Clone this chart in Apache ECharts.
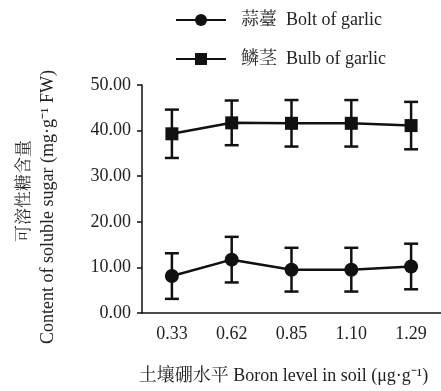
<!DOCTYPE html>
<html><head><meta charset="utf-8">
<script src="https://cdn.jsdelivr.net/npm/echarts@6/dist/echarts.min.js"></script>
<style>html,body{margin:0;padding:0;background:#fff}#c{width:441px;height:391px}</style>
</head><body><div id="c"></div>
<script>
var categories = ['0.33', '0.62', '0.85', '1.10', '1.29'];
var boltName = '蒜薹  Bolt of garlic';
var bulbName = '鳞茎  Bulb of garlic';
var bolt = [8.1, 11.7, 9.5, 9.5, 10.2];
var boltErr = [5.0, 5.0, 4.8, 4.8, 5.0];
var bulb = [39.3, 41.7, 41.6, 41.6, 41.1];
var bulbErr = [5.3, 4.9, 5.1, 5.1, 5.2];
var yTicks = [0, 10, 20, 30, 40, 50];
var yNameEn = 'Content of soluble sugar (mg·g⁻¹ FW)';
var yNameZh = '可溶性糖含量';
var xName = '土壤硼水平 Boron level in soil (μg·g⁻¹)';

var FONT = "'Liberation Serif', 'Noto Serif CJK SC', 'Noto Sans CJK SC', serif";
var INK = '#111';
var TXT = '#222';
var FS = 18;

function errItem(params, api) {
  var i = api.value(0), v = api.value(1), e = api.value(2);
  var top = api.coord([i, v + e]);
  var bot = api.coord([i, v - e]);
  var w = 7;
  var st = {stroke: INK, lineWidth: 2.5};
  return {type: 'group', children: [
    {type: 'line', shape: {x1: top[0], y1: top[1], x2: bot[0], y2: bot[1]}, style: st},
    {type: 'line', shape: {x1: top[0]-w, y1: top[1], x2: top[0]+w, y2: top[1]}, style: st},
    {type: 'line', shape: {x1: bot[0]-w, y1: bot[1], x2: bot[0]+w, y2: bot[1]}, style: st}
  ]};
}

var chart = echarts.init(document.getElementById('c'));
chart.setOption({
  animation: false,
  textStyle: {fontFamily: FONT, color: TXT},
  legend: {
    orient: 'vertical', left: 170, top: 6,
    itemWidth: 50, itemHeight: 15, itemGap: 21,
    data: [boltName, bulbName],
    textStyle: {fontFamily: FONT, fontSize: FS, color: TXT, padding: [0, 0, 0, 10]}
  },
  graphic: [{
    type: 'text', x: 25, y: 191, rotation: Math.PI / 2,
    style: {text: yNameZh, font: '17px ' + FONT, fill: TXT, align: 'center', verticalAlign: 'middle'}
  }],
  grid: {left: 142, top: 85, bottom: 78, width: 300},
  xAxis: {
    type: 'category', data: categories,
    axisLine: {lineStyle: {color: INK, width: 1.5}},
    axisTick: {inside: true, length: 5, lineStyle: {color: INK, width: 1.5}},
    axisLabel: {fontFamily: FONT, fontSize: FS, color: TXT, margin: 12},
    name: xName,
    nameLocation: 'middle', nameGap: 54,
    nameTextStyle: {fontFamily: FONT, fontSize: FS, color: TXT, padding: [0, 16, 0, 0]}
  },
  yAxis: {
    type: 'value', min: yTicks[0], max: yTicks[yTicks.length-1], interval: 10,
    axisLine: {show: true, lineStyle: {color: INK, width: 1.5}},
    axisTick: {show: true, length: 5, lineStyle: {color: INK, width: 1.5}},
    splitLine: {show: false},
    axisLabel: {fontFamily: FONT, fontSize: FS, color: TXT, margin: 11,
      formatter: function (v) { return v.toFixed(2); }},
    name: yNameEn,
    nameLocation: 'middle', nameGap: 85,
    nameTextStyle: {fontFamily: FONT, fontSize: FS, color: TXT, lineHeight: 18, padding: [0, 16, 0, 0]}
  },
  series: [
    {name: boltName, type: 'line', data: bolt, symbol: 'circle', symbolSize: 14,
     lineStyle: {color: INK, width: 2.5}, itemStyle: {color: INK}, z: 3},
    {name: bulbName, type: 'line', data: bulb, symbol: 'rect', symbolSize: 13,
     lineStyle: {color: INK, width: 2.5}, itemStyle: {color: INK}, z: 3},
    {type: 'custom', renderItem: errItem, z: 2, silent: true,
     data: bolt.map(function (v, i) { return [i, v, boltErr[i]]; })},
    {type: 'custom', renderItem: errItem, z: 2, silent: true,
     data: bulb.map(function (v, i) { return [i, v, bulbErr[i]]; })}
  ]
});
</script></body></html>
